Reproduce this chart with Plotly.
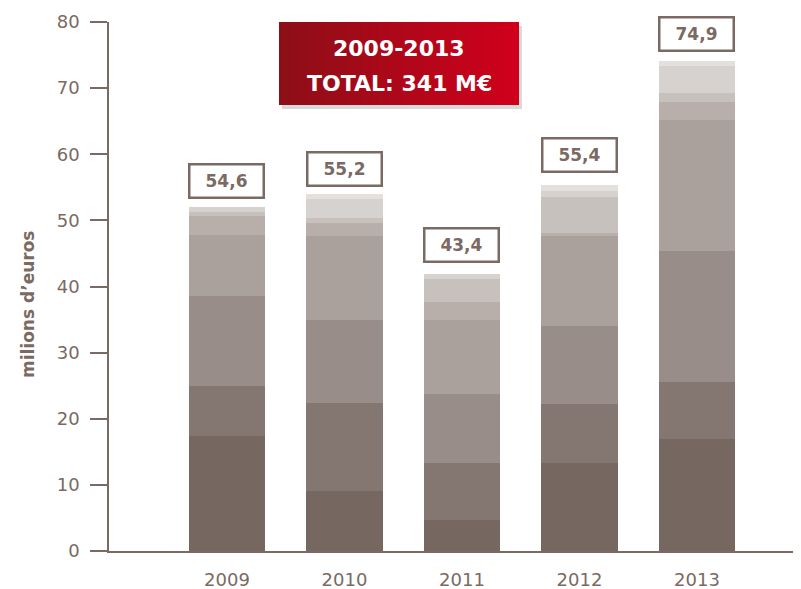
import plotly.graph_objects as go

# ---- data ----
years = ["2009", "2010", "2011", "2012", "2013"]
seg1 = [17.4, 9.1, 4.7, 13.3, 16.9]
seg2 = [7.6, 13.3, 8.6, 8.9, 8.7]
seg3 = [13.5, 12.5, 10.4, 11.8, 19.7]
seg4 = [9.3, 12.7, 11.2, 13.6, 19.9]
seg5 = [2.9, 2.0, 2.8, 0.5, 2.7]
seg6 = [0.6, 0.8, 3.4, 5.4, 1.4]
seg7 = [0.7, 2.8, 0.8, 1.0, 4.1]
seg8 = [0.0, 0.8, 0.0, 0.8, 0.7]
total_labels = ["54,6", "55,2", "43,4", "55,4", "74,9"]
title_line1 = "2009-2013"
title_line2 = "TOTAL: 341 M€"
y_title = "milions d’euros"
y_ticks = [0, 10, 20, 30, 40, 50, 60, 70, 80]

# ---- style ----
series = [seg1, seg2, seg3, seg4, seg5, seg6, seg7, seg8]
colors = ["#766861", "#847671", "#988d88", "#aaa19d", "#b8afab", "#c7c1be", "#d6d2cf", "#e4e0de"]
brown = "#7a6a63"
FONT = "DejaVu Sans"
label_gaps = [8, 7, 11, 12, 9]  # px gap between bar top and value box

# the page body has an 8px margin: the figure starts at (8, 8) of the window
OFF = 8
W, H = 801 - OFF, 589 - OFF
L, R, T, B = 109 - OFF, 1, 22 - OFF, 38
pw, ph = W - L - R, H - T - B


def px(xp):  # window pixel -> paper x
    return (xp - OFF - L) / pw


def py(yp):  # window pixel -> paper y
    return (H - B - (yp - OFF)) / ph


fig = go.Figure()
for vals, col in zip(series, colors):
    fig.add_trace(go.Bar(x=years, y=vals, width=0.65, marker=dict(color=col, line=dict(width=0)),
                         showlegend=False, hoverinfo="skip"))

totals = [sum(v) for v in zip(*series)]
annotations = []
for i, (tot, lab, gap) in enumerate(zip(totals, total_labels, label_gaps)):
    annotations.append(dict(x=i, y=tot, xref="x", yref="y", text=lab, showarrow=False,
                            xanchor="center", yanchor="bottom", yshift=gap,
                            font=dict(family=FONT, size=17, color=brown, weight="bold"),
                            bgcolor="white", bordercolor=brown, borderwidth=2.5, borderpad=0,
                            width=72, height=31))

shapes = []
bx0, bx1, by0, by1 = 279, 519, 22, 105
# soft shadow
shapes.append(dict(type="rect", xref="paper", yref="paper", x0=px(bx0 + 3), x1=px(bx1 + 3),
                   y0=py(by1 + 4), y1=py(by0 + 4), fillcolor="rgba(0,0,0,0.15)", line=dict(width=0),
                   layer="above"))
c0 = (0x8c, 0x0f, 0x17)
c1 = (0xd0, 0x00, 0x1c)
n = 60
for k in range(n):
    t = k / (n - 1)
    c = tuple(round(a + (b - a) * t) for a, b in zip(c0, c1))
    xa = bx0 + (bx1 - bx0) * k / n
    xb = min(bx0 + (bx1 - bx0) * (k + 1) / n + 0.6, bx1)
    shapes.append(dict(type="rect", xref="paper", yref="paper", x0=px(xa), x1=px(xb),
                       y0=py(by1), y1=py(by0), fillcolor="rgb(%d,%d,%d)" % c, line=dict(width=0),
                       layer="above"))

annotations.append(dict(x=px((bx0 + bx1) / 2), y=py(48), xref="paper", yref="paper", text=title_line1,
                        showarrow=False, xanchor="center", yanchor="middle",
                        font=dict(family=FONT, size=22, color="white", weight="bold")))
annotations.append(dict(x=px((bx0 + bx1) / 2), y=py(83), xref="paper", yref="paper", text=title_line2,
                        showarrow=False, xanchor="center", yanchor="middle",
                        font=dict(family=FONT, size=22, color="white", weight="bold")))
# rotated y-axis title
annotations.append(dict(x=px(28), y=py(305), xref="paper", yref="paper", text=y_title,
                        showarrow=False, xanchor="center", yanchor="middle", textangle=-90,
                        font=dict(family=FONT, size=17, color=brown, weight="bold")))

fig.update_layout(
    width=W, height=H,
    margin=dict(l=L, r=R, t=T, b=B, pad=0),
    paper_bgcolor="white", plot_bgcolor="white",
    barmode="stack",
    font=dict(family=FONT, color=brown),
    shapes=shapes,
    annotations=annotations,
    xaxis=dict(type="category", range=[-1.004, 4.877], showgrid=False, zeroline=False,
               automargin=False,
               showline=True, linecolor=brown, linewidth=1.5, ticks="",
               tickfont=dict(family=FONT, size=18, color=brown), ticklabelstandoff=12),
    yaxis=dict(range=[0, 80], tickvals=y_ticks, showgrid=False, zeroline=False,
               automargin=False,
               showline=True, linecolor=brown, linewidth=1.5, ticks="outside", ticklen=17,
               tickcolor=brown, tickwidth=1.5,
               tickfont=dict(family=FONT, size=18, color=brown), ticklabelstandoff=7),
)

fig.write_html("out.html")
